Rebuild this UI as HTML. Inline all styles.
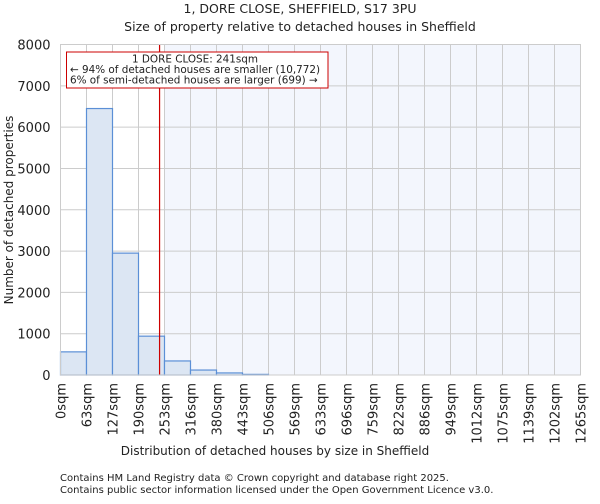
<!DOCTYPE html>
<html><head><meta charset="utf-8"><style>
body{margin:0;background:#fff;font-family:"DejaVu Sans","Liberation Sans",sans-serif;}
svg text{font-family:"DejaVu Sans","Liberation Sans",sans-serif;fill:#222;}
</style></head><body>
<svg id="chart" width="600" height="500" xmlns="http://www.w3.org/2000/svg">
<text x="300" y="13" text-anchor="middle" font-size="12.5">1, DORE CLOSE, SHEFFIELD, S17 3PU</text>
<text x="300" y="31" text-anchor="middle" font-size="12.5">Size of property relative to detached houses in Sheffield</text>
<g id="plot"></g>
<text x="275" y="455" text-anchor="middle" font-size="12">Distribution of detached houses by size in Sheffield</text>
<text transform="translate(13,210) rotate(-90)" text-anchor="middle" font-size="12">Number of detached properties</text>
<text x="60" y="481" font-size="10">Contains HM Land Registry data © Crown copyright and database right 2025.</text>
<text x="60" y="493" font-size="10">Contains public sector information licensed under the Open Government Licence v3.0.</text>
</svg>
<script>
const binLabels=["0sqm","63sqm","127sqm","190sqm","253sqm","316sqm","380sqm","443sqm","506sqm","569sqm","633sqm","696sqm","759sqm","822sqm","886sqm","949sqm","1012sqm","1075sqm","1139sqm","1202sqm","1265sqm"];
const counts=[560,6450,2950,940,340,120,50,15,0,0,0,0,0,0,0,0,0,0,0,0];
const yTicks=[0,1000,2000,3000,4000,5000,6000,7000,8000];
const propertySize=241;
const binWidthSqm=63.25;
const NS="http://www.w3.org/2000/svg";
const L=60.5,R=580.5,T=44.5,B=375,yMax=8000;
const nb=counts.length,bw=(R-L)/nb;
const x=v=>L+v/binWidthSqm*bw;
const y=v=>B-(v/yMax)*(B-T);
const g=document.getElementById('plot');
function mk(tag,a){const e=document.createElementNS(NS,tag);for(const k in a)e.setAttribute(k,a[k]);g.appendChild(e);return e;}
const shadeStart=Math.ceil(propertySize/binWidthSqm);
let e=mk('rect',{x:L+shadeStart*bw,y:T,width:R-(L+shadeStart*bw),height:B-T,fill:'#f3f6fd'});


yTicks.forEach(t=>{const l=mk('line',{x1:L,x2:R,y1:y(t),y2:y(t),stroke:'#ccc','stroke-width':1});


const tx=mk('text',{x:L-10,y:y(t)+5,'text-anchor':'end','font-size':13});tx.textContent=t;

});
binLabels.forEach((lab,i)=>{const xx=L+i*bw;const l=mk('line',{x1:xx,x2:xx,y1:T,y2:B,stroke:'#ccc','stroke-width':1});


const tx=mk('text',{transform:`translate(${xx+5},${B+8}) rotate(-90)`,'text-anchor':'end','font-size':13});tx.textContent=lab;

});
counts.forEach((c,i)=>{if(c<=0)return;const r=mk('rect',{x:L+i*bw,y:y(c),width:bw,height:B-y(c),fill:'#dce6f3',stroke:'#5b8fd6','stroke-width':1.2});

});
const ln=mk('line',{x1:x(propertySize),x2:x(propertySize),y1:T,y2:B,stroke:'#c00','stroke-width':1.2});


const bx=mk('rect',{x:66.5,y:52,width:261.5,height:36,fill:'#fff',stroke:'#c00','stroke-width':1});


[["1 DORE CLOSE: 241sqm",62.5],["← 94% of detached houses are smaller (10,772)",73],["6% of semi-detached houses are larger (699) →",83.5]].forEach((a,i)=>{const t=mk('text',{x:i==0?195:70,y:a[1],'text-anchor':i==0?'middle':'start','font-size':10.4});t.textContent=a[0];

});
const ax=mk('rect',{x:L,y:T,width:R-L,height:B-T,fill:'none',stroke:'#ccc','stroke-width':1});


</script>
</body></html>
